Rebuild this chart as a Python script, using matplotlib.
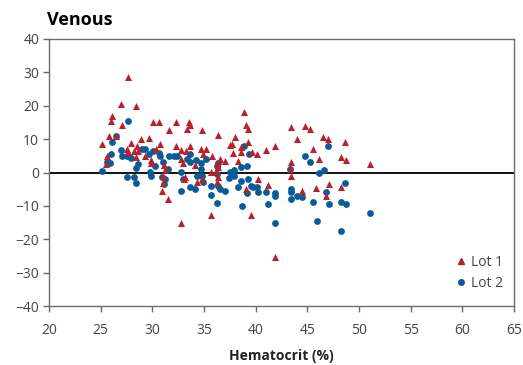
import matplotlib.pyplot as plt
from matplotlib.lines import Line2D

plt.rcParams['font.family'] = ['Open Sans', 'DejaVu Sans']

# Lot 1 (triangles): hematocrit %, difference
lot1_x = [27.6, 27.0, 28.4, 26.1, 26.0, 27.1, 30.1, 30.6, 31.6, 32.3,
          25.8, 26.5, 25.1, 27.9, 28.9, 29.7, 30.7, 28.5, 27.5, 28.2,
          28.6, 27.6, 30.4, 25.6, 28.4, 29.3, 29.9, 29.9, 31.1, 25.5,
          31.2, 31.0, 31.0, 30.9, 31.5,
          38.9, 33.5, 33.6, 33.4, 34.8, 36.4, 39.1, 39.3, 38.0, 37.5,
          37.7, 38.6, 38.6, 39.6, 32.3, 33.6, 33.3, 32.8, 34.7, 35.2,
          34.9, 35.8, 37.8, 32.8, 33.0, 34.1, 36.5, 36.3, 37.0, 38.3,
          35.7, 36.4, 39.3,
          33.2, 33.1, 34.3, 34.8, 36.2, 36.4, 36.3, 39.1, 32.8, 35.7, 39.5,
          43.4, 44.8, 45.3, 44.0, 46.5, 47.0, 48.6, 41.9, 41.0, 40.1,
          45.5, 46.1, 48.3, 48.7, 51.1, 43.4, 43.3, 43.4, 40.2, 41.2,
          47.1, 45.8, 44.5, 48.3, 46.8, 41.9]
lot1_y = [28.7, 20.5, 19.9, 17.0, 15.4, 14.2, 15.0, 15.0, 12.7, 15.0,
          11.0, 11.0, 8.5, 8.7, 10.0, 10.4, 8.4, 7.9, 6.9, 6.5,
          6.5, 6.0, 7.0, 4.9, 4.7, 4.9, 3.7, 2.8, 2.3, 2.5,
          0.7, -1.0, -3.0, -5.4, -8.0,
          18.2, 15.0, 14.2, 13.0, 12.7, 11.2, 14.2, 13.0, 10.5, 8.2,
          8.5, 7.7, 6.2, 6.2, 7.9, 8.0, 6.5, 6.7, 7.0, 7.0,
          5.4, 5.0, 5.9, 3.9, 2.9, 2.3, 3.9, 2.7, 3.5, 3.4,
          0.2, 1.7, 9.0,
          -1.2, -2.0, -2.9, -2.0, 0.4, -1.4, -2.9, -5.0, -15.2, -12.7, -12.7,
          13.7, 14.0, 13.0, 10.0, 10.5, 10.0, 9.0, 8.0, 6.7, 5.4,
          7.0, 4.0, 4.7, 3.7, 2.5, 3.0, 1.0, -1.0, -2.0, -3.7,
          -3.5, -4.7, -5.4, -4.4, -6.9, -25.2]

# Lot 2 (circles)
lot2_x = [27.6, 26.5, 26.1, 26.0, 27.0, 27.1, 27.5, 27.9, 29.0, 29.3,
          29.7, 30.1, 30.6, 30.7, 31.6, 32.1, 25.6, 25.9, 28.6, 28.4,
          30.3, 31.0, 31.5, 25.1, 29.8,
          27.5, 28.2, 28.4, 29.9, 30.9, 31.2, 31.1,
          38.9, 39.4, 32.4, 33.4, 33.6, 35.2, 36.4, 36.3, 34.7, 37.9,
          38.6, 32.8, 37.5, 33.6, 34.2, 34.7, 39.2,
          34.3, 34.8, 34.9, 33.0, 33.6, 32.8, 34.1, 35.7, 35.7, 36.3,
          36.4, 36.5, 37.0, 36.3, 37.6, 37.9, 37.4, 38.6, 39.3, 38.3,
          39.5, 39.7, 39.2, 38.7,
          47.0, 44.8, 45.3, 46.1, 46.6, 43.3, 48.6, 40.1, 40.2, 41.0,
          41.9, 41.9, 43.4, 43.4, 43.4, 44.0, 44.5, 46.8, 45.5, 47.1,
          48.3, 48.7, 41.2, 51.1, 41.9, 45.9, 48.3]
lot2_y = [15.5, 11.0, 9.0, 5.4, 6.7, 4.9, 4.9, 4.4, 7.0, 7.0,
          5.4, 6.4, 5.7, 5.0, 5.0, 5.0, 3.0, 2.8, 2.5, 1.4,
          2.0, 3.0, 1.0, 0.5, 0.2,
          -1.4, -1.4, -3.0, -1.0, -1.4, -2.0, -3.4,
          8.0, 5.4, 5.0, 3.9, 3.2, 3.9, 2.9, 2.0, 1.0, 0.7,
          1.7, 0.2, 0.2, 5.6, 3.7, 2.8, 2.0,
          -1.0, -1.0, -2.9, -2.0, -4.2, -5.4, -4.9, -3.9, -6.7, -9.0,
          -3.9, -4.9, -5.4, -0.5, 0.0, -1.0, -1.7, -2.4, -2.0, -4.2,
          -3.9, -4.4, -6.0, -9.9,
          8.0, 5.0, 3.0, 0.0, 0.6, 1.0, -3.0, -4.4, -5.9, -5.7,
          -6.0, -7.0, -5.0, -5.7, -8.0, -6.9, -7.4, -5.9, -8.9, -9.5,
          -8.9, -9.5, -9.3, -12.0, -15.0, -14.5, -17.4]

RED = '#B8222A'
BLUE = '#0A5C99'

fig = plt.figure(figsize=(5.23, 3.65), dpi=100)
ax = fig.add_axes([49/523, 59/365, 465/523, 267/365])

ax.axhline(0, color='black', lw=1.3, zorder=1)
ax.scatter(lot2_x, lot2_y, marker='o', s=24, color=BLUE, linewidths=0, zorder=2)
ax.scatter(lot1_x, lot1_y, marker='^', s=26, color=RED, linewidths=0, zorder=3)

ax.set_xlim(20, 65)
ax.set_ylim(-40, 40)
ax.set_xticks(range(20, 66, 5))
ax.set_yticks(range(-40, 41, 10))
for sp in ax.spines.values():
    sp.set_color('#6b6b6b')
    sp.set_linewidth(1.0)
ax.tick_params(direction='out', length=4, width=1.0, color='#6b6b6b',
               labelsize=10, labelcolor='#444444', pad=3)
ax.tick_params(axis='x', pad=8)

ax.set_xlabel('Hematocrit (%)', fontsize=10, fontweight='bold',
              color='#222222', labelpad=8)
fig.text(47/523, 1 - 20/365, 'Venous', fontsize=13, fontweight='bold',
         ha='left', va='center', color='black')

handles = [Line2D([], [], marker='^', ls='', color=RED, markersize=4.5),
           Line2D([], [], marker='o', ls='', color=BLUE, markersize=4)]
ax.legend(handles, ['Lot 1', 'Lot 2'], loc='center left',
          bbox_to_anchor=(0.845, 0.125), frameon=False, fontsize=10,
          handletextpad=0.2, handlelength=1.0, labelspacing=0.45,
          labelcolor='#444444')

fig.savefig('out.png', dpi=100)
